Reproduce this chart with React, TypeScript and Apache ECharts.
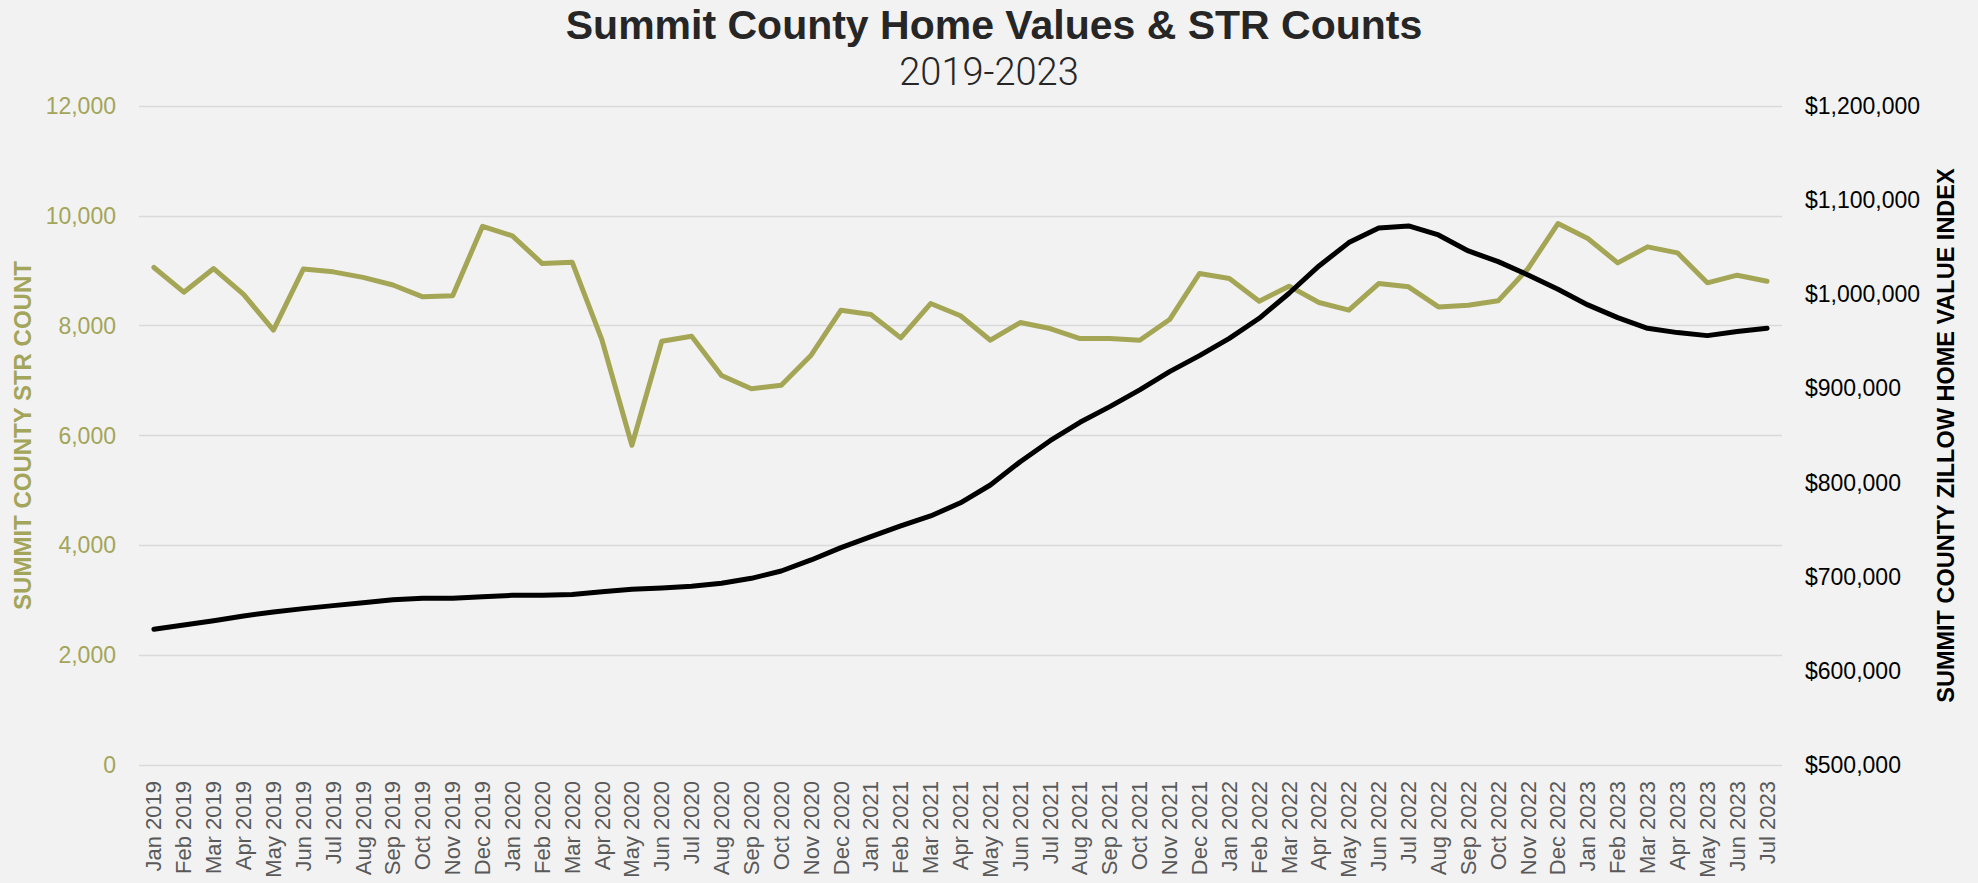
import React, { useEffect, useRef } from "react";
import * as echarts from "echarts";

const months: string[] = [
  "Jan 2019", "Feb 2019", "Mar 2019", "Apr 2019", "May 2019", "Jun 2019", "Jul 2019", "Aug 2019", "Sep 2019", "Oct 2019", "Nov 2019", "Dec 2019",
  "Jan 2020", "Feb 2020", "Mar 2020", "Apr 2020", "May 2020", "Jun 2020", "Jul 2020", "Aug 2020", "Sep 2020", "Oct 2020", "Nov 2020", "Dec 2020",
  "Jan 2021", "Feb 2021", "Mar 2021", "Apr 2021", "May 2021", "Jun 2021", "Jul 2021", "Aug 2021", "Sep 2021", "Oct 2021", "Nov 2021", "Dec 2021",
  "Jan 2022", "Feb 2022", "Mar 2022", "Apr 2022", "May 2022", "Jun 2022", "Jul 2022", "Aug 2022", "Sep 2022", "Oct 2022", "Nov 2022", "Dec 2022",
  "Jan 2023", "Feb 2023", "Mar 2023", "Apr 2023", "May 2023", "Jun 2023", "Jul 2023",
];

// Summit County STR count (left axis)
const strCounts: number[] = [
  9060, 8610, 9040, 8570, 7920, 9030, 8980, 8880, 8740, 8525, 8545, 9810,
  9636, 9130, 9156, 7735, 5822, 7717, 7808, 7092, 6850, 6915, 7462, 8282,
  8203, 7778, 8403, 8180, 7735, 8057, 7948, 7766, 7766, 7735, 8112, 8950,
  8858, 8446, 8719, 8421, 8282, 8767, 8707, 8342, 8373, 8452, 9041, 9860,
  9587, 9144, 9435, 9326, 8780, 8919, 8810,
];

// Summit County Zillow Home Value Index (right axis)
const homeValues: number[] = [
  644100, 648700, 653300, 658300, 662500, 666100, 669300, 672400, 675600, 677000, 677000, 678800,
  680200, 680300, 681000, 684100, 686600, 688000, 689800, 693000, 698300, 706100, 717800, 730900,
  742600, 753900, 764500, 778500, 797400, 822200, 844500, 864000, 880700, 898400, 917800, 934800,
  953200, 974500, 1001100, 1030100, 1054900, 1070500, 1072600, 1063000, 1046000, 1034700, 1020500, 1005300,
  988700, 975200, 963900, 959300, 956100, 960400, 963900,
];

const TITLE = "Summit County Home Values & STR Counts";
const SUBTITLE = "2019-2023";
const LEFT_NAME = "SUMMIT COUNTY STR COUNT";
const RIGHT_NAME = "SUMMIT COUNTY ZILLOW HOME VALUE INDEX";

const FONT = "'Liberation Sans', Arial, Helvetica, sans-serif";
const OLIVE = "#a4a655";
const OLIVE_TEXT = "#a3a55a";

export default function App() {
  const ref = useRef<HTMLDivElement | null>(null);

  useEffect(() => {
    if (!ref.current) return;
    const chart = echarts.init(ref.current, null, { renderer: "svg" });
    const option: any = {
      animation: false,
      backgroundColor: "#f2f2f2",
      textStyle: { fontFamily: FONT },
      graphic: [
        {
          type: "text",
          x: 994,
          y: 4,
          style: {
            text: TITLE,
            fontFamily: FONT,
            fontSize: 41,
            fontWeight: "bold",
            fill: "#262626",
            textAlign: "center",
            textVerticalAlign: "top",
          },
        },
        {
          type: "text",
          x: 989,
          y: 53,
          style: {
            text: SUBTITLE,
            fontFamily: "Roboto, 'Liberation Sans', sans-serif",
            fontSize: 38,
            fontWeight: 300,
            fill: "#262626",
            textAlign: "center",
            textVerticalAlign: "top",
          },
        },
      ],
      grid: {
        left: 139,
        top: 106,
        width: 1643,
        height: 659,
        containLabel: false,
        outerBoundsMode: "none",
      },
      xAxis: {
        type: "category",
        data: months,
        boundaryGap: true,
        axisLine: { show: false },
        axisTick: { show: false },
        axisLabel: {
          rotate: 90,
          interval: 0,
          fontSize: 22,
          color: "#595959",
          margin: 16,
          fontFamily: FONT,
        },
      },
      yAxis: [
        {
          type: "value",
          position: "left",
          min: 0,
          max: 12000,
          interval: 2000,
          axisLine: { show: false },
          axisTick: { show: false },
          splitLine: { show: true, lineStyle: { color: "#d9d9d9", width: 1.3 } },
          axisLabel: {
            fontSize: 23,
            color: OLIVE_TEXT,
            margin: 23,
            fontFamily: FONT,
            formatter: (v: number) => v.toLocaleString("en-US"),
          },
          name: LEFT_NAME,
          nameLocation: "middle",
          nameRotate: 90,
          nameGap: 104,
          nameTextStyle: {
            fontSize: 24,
            fontWeight: "bold",
            color: OLIVE_TEXT,
            fontFamily: FONT,
          },
        },
        {
          type: "value",
          position: "right",
          min: 500000,
          max: 1200000,
          interval: 100000,
          axisLine: { show: false },
          axisTick: { show: false },
          splitLine: { show: false },
          axisLabel: {
            fontSize: 23,
            color: "#000000",
            margin: 23,
            fontFamily: FONT,
            formatter: (v: number) => "$" + v.toLocaleString("en-US"),
          },
          name: RIGHT_NAME,
          nameLocation: "middle",
          nameRotate: 90,
          nameGap: 152,
          nameTextStyle: {
            fontSize: 23.5,
            fontWeight: "bold",
            color: "#000000",
            fontFamily: FONT,
          },
        },
      ],
      series: [
        {
          name: "STR Count",
          type: "line",
          yAxisIndex: 0,
          data: strCounts,
          symbol: "none",
          smooth: false,
          lineStyle: { color: OLIVE, width: 5, cap: "round", join: "round" },
          itemStyle: { color: OLIVE },
          z: 2,
        },
        {
          name: "Zillow Home Value Index",
          type: "line",
          yAxisIndex: 1,
          data: homeValues,
          symbol: "none",
          smooth: false,
          lineStyle: { color: "#000000", width: 5, cap: "round", join: "round" },
          itemStyle: { color: "#000000" },
          z: 3,
        },
      ],
    };
    chart.setOption(option);
    return () => {
      chart.dispose();
    };
  }, []);

  return (
    <div
      ref={ref}
      style={{ position: "fixed", left: 0, top: 0, width: 1978, height: 883 }}
    />
  );
}
